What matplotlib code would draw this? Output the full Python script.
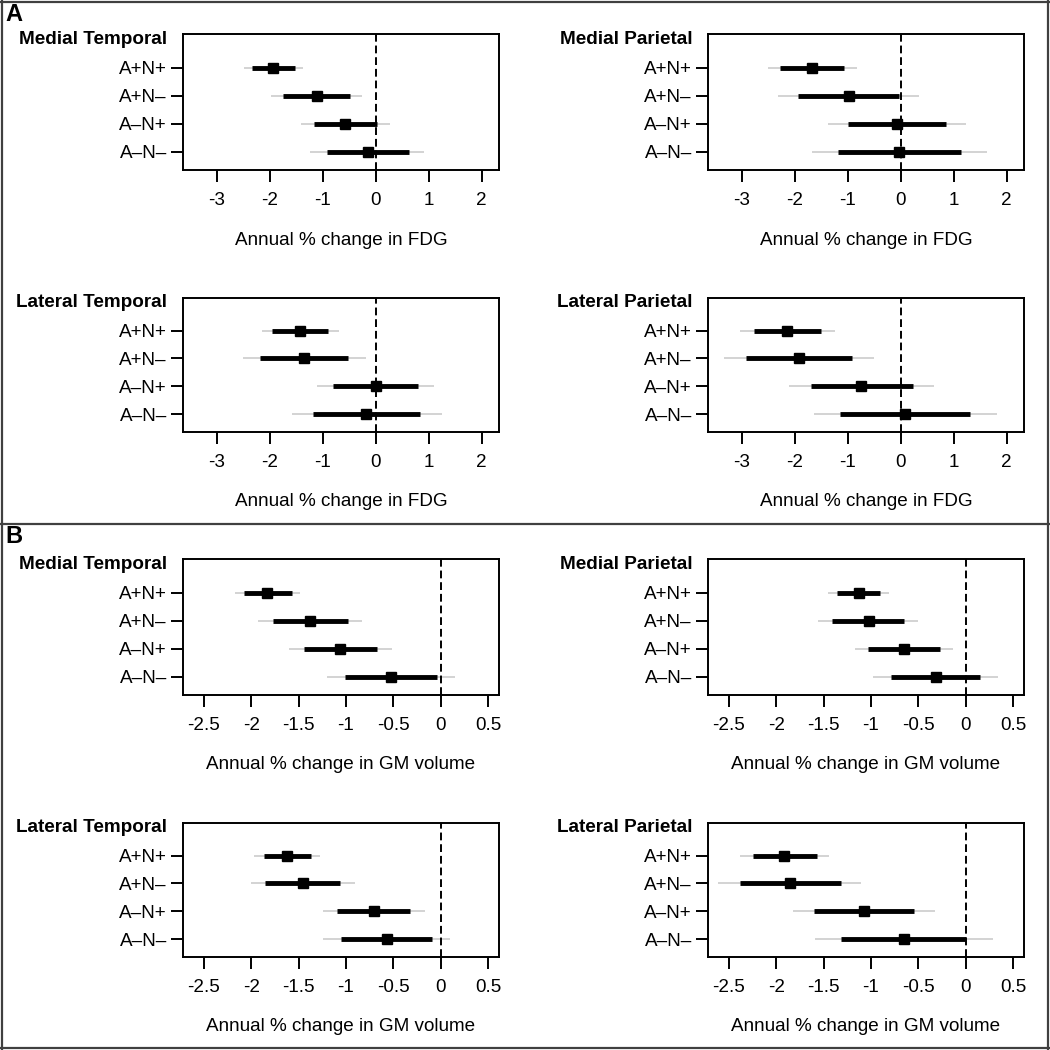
import matplotlib
matplotlib.use("Agg")
import matplotlib.pyplot as plt
from matplotlib.lines import Line2D
import numpy as np

plt.rcParams['font.family'] = ['Liberation Sans', 'DejaVu Sans']
plt.rcParams['axes.unicode_minus'] = False

groups = ['A+N+', 'A+N\u2013', 'A\u2013N+', 'A\u2013N\u2013']
regions = ['Medial Temporal', 'Medial Parietal', 'Lateral Temporal', 'Lateral Parietal']

# FDG, one row per region, columns follow groups
fdg_est = [[-1.94, -1.11, -0.57, -0.15],
           [-1.67, -0.98, -0.07, -0.03],
           [-1.43, -1.36, 0.00, -0.18],
           [-2.14, -1.92, -0.74, 0.08]]
fdg_in_lo = [[-2.33, -1.74, -1.16, -0.91],
             [-2.28, -1.93, -1.00, -1.19],
             [-1.95, -2.18, -0.80, -1.18],
             [-2.77, -2.92, -1.70, -1.14]]
fdg_in_hi = [[-1.53, -0.48, 0.02, 0.62],
             [-1.06, -0.03, 0.85, 1.14],
             [-0.89, -0.53, 0.79, 0.83],
             [-1.50, -0.91, 0.23, 1.31]]
fdg_out_lo = [[-2.48, -1.98, -1.40, -1.23],
              [-2.51, -2.31, -1.38, -1.68],
              [-2.15, -2.51, -1.11, -1.58],
              [-3.03, -3.33, -2.11, -1.64]]
fdg_out_hi = [[-1.38, -0.25, 0.27, 0.92],
              [-0.82, 0.35, 1.23, 1.62],
              [-0.69, -0.19, 1.11, 1.25],
              [-1.24, -0.51, 0.62, 1.82]]

# GM volume
gm_est = [[-1.83, -1.38, -1.06, -0.52],
          [-1.13, -1.02, -0.65, -0.31],
          [-1.62, -1.45, -0.70, -0.57],
          [-1.92, -1.85, -1.07, -0.65]]
gm_in_lo = [[-2.08, -1.77, -1.44, -1.01],
            [-1.36, -1.41, -1.03, -0.79],
            [-1.87, -1.85, -1.09, -1.05],
            [-2.25, -2.38, -1.60, -1.32]]
gm_in_hi = [[-1.57, -0.98, -0.67, -0.04],
            [-0.90, -0.65, -0.27, 0.15],
            [-1.37, -1.06, -0.32, -0.09],
            [-1.57, -1.32, -0.54, 0.00]]
gm_out_lo = [[-2.17, -1.93, -1.60, -1.20],
             [-1.45, -1.56, -1.17, -0.98],
             [-1.97, -2.00, -1.24, -1.24],
             [-2.38, -2.61, -1.82, -1.59]]
gm_out_hi = [[-1.48, -0.83, -0.51, 0.15],
             [-0.81, -0.50, -0.13, 0.34],
             [-1.27, -0.90, -0.17, 0.10],
             [-1.44, -1.10, -0.32, 0.29]]

fdg_ticks = [-3, -2, -1, 0, 1, 2]
gm_ticks = [-2.5, -2, -1.5, -1, -0.5, 0, 0.5]

W = H = 1050
FS = 13.6
fig = plt.figure(figsize=(10.5, 10.5), dpi=100)

def px_axes(x0, y0, x1, y1):
    return fig.add_axes([x0 / W, 1 - y1 / H, (x1 - x0) / W, (y1 - y0) / H])

def forest(ax, title, est, in_lo, in_hi, out_lo, out_hi, ticks, xlim, xlabel):
    y = np.arange(len(groups), 0, -1)
    ax.hlines(y, out_lo, out_hi, color='#d0d0d0', lw=1.3, zorder=2, capstyle='butt')
    ax.hlines(y, in_lo, in_hi, color='black', lw=3.5, zorder=3, capstyle='butt')
    ax.plot(est, y, 's', color='black', ms=6.8, zorder=4)
    ax.axvline(0, color='black', lw=1.4, dashes=(4, 2), zorder=5)
    ax.set_xlim(*xlim)
    ax.set_ylim(0.35, 5.18)
    ax.set_yticks(y)
    ax.set_yticklabels(groups, fontsize=FS)
    ax.set_xticks(ticks)
    ax.set_xticklabels([f'{t:g}' for t in ticks], fontsize=FS)
    ax.tick_params(axis='x', length=8.6, width=1.4, pad=7)
    ax.tick_params(axis='y', length=8.6, width=1.4, pad=3)
    for s in ax.spines.values():
        s.set_linewidth(1.4)
    ax.set_xlabel(xlabel, fontsize=FS)
    ax.xaxis.set_label_coords(0.5, -0.45)
    ax.text(-0.05, 5.0, title, transform=ax.get_yaxis_transform(),
            ha='right', va='center', fontsize=FS, fontweight='bold')

col_x = [(183, 499), (708, 1024)]
rows_a = [(34.3, 170.3), (297.7, 432.3)]
rows_b = [(559.3, 695.3), (822.7, 957.3)]

for i, region in enumerate(regions):
    cx = col_x[i % 2]
    ra = rows_a[i // 2]
    rb = rows_b[i // 2]
    ax = px_axes(cx[0], ra[0], cx[1], ra[1])
    forest(ax, region, fdg_est[i], fdg_in_lo[i], fdg_in_hi[i], fdg_out_lo[i], fdg_out_hi[i],
           fdg_ticks, (-3.635, 2.327), 'Annual % change in FDG')
    ax = px_axes(cx[0], rb[0], cx[1], rb[1])
    forest(ax, region, gm_est[i], gm_in_lo[i], gm_in_hi[i], gm_out_lo[i], gm_out_hi[i],
           gm_ticks, (-2.72, 0.616), 'Annual % change in GM volume')

# panel letters and frame
fig.text(14 / W, 1 - 14.5 / H, 'A', ha='center', va='center', fontsize=17, fontweight='bold')
fig.text(14 / W, 1 - 536.5 / H, 'B', ha='center', va='center', fontsize=17, fontweight='bold')

frame_kw = dict(color='#404040', lw=1.6, transform=fig.transFigure)
fig.add_artist(Line2D([2 / W, 2 / W], [0, 1], **frame_kw))
fig.add_artist(Line2D([1048 / W, 1048 / W], [0, 1], **frame_kw))
fig.add_artist(Line2D([0, 1], [1 - 1.5 / H, 1 - 1.5 / H], **frame_kw))
fig.add_artist(Line2D([0, 1], [1 - 1047.5 / H, 1 - 1047.5 / H], **frame_kw))
fig.add_artist(Line2D([0, 1], [1 - 524 / H, 1 - 524 / H], **frame_kw))

fig.savefig('out.png', dpi=100)
